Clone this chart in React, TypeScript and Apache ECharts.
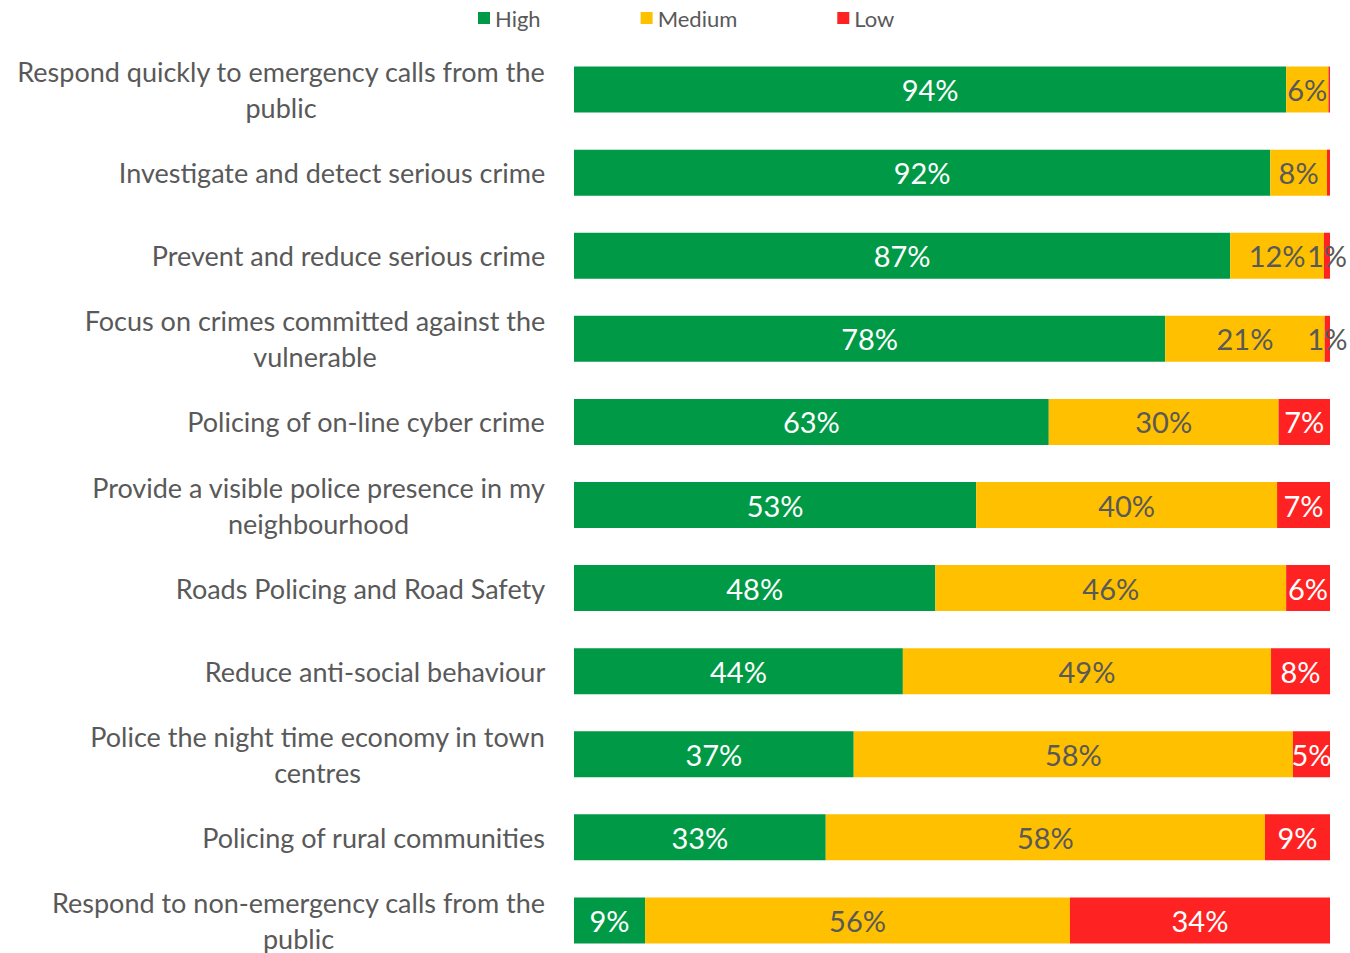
import React, { useEffect, useRef } from "react";
import * as echarts from "echarts";

const categories = [
  "Respond quickly to emergency calls from the\npublic",
  "Investigate and detect serious crime",
  "Prevent and reduce serious crime",
  "Focus on crimes committed against the\nvulnerable",
  "Policing of on-line cyber crime",
  "Provide a visible police presence in my\nneighbourhood",
  "Roads Policing and Road Safety",
  "Reduce anti-social behaviour",
  "Police the night time economy in town\ncentres",
  "Policing of rural communities",
  "Respond to non-emergency calls from the\npublic",
];
const high = [94.2, 92.1, 86.8, 78.2, 62.8, 53.2, 47.8, 43.5, 37.0, 33.3, 9.4];
const medium = [5.6, 7.5, 12.4, 21.1, 30.4, 39.8, 46.4, 48.7, 58.1, 58.1, 56.2];
const low = [0.2, 0.4, 0.8, 0.7, 6.8, 7.0, 5.8, 7.8, 4.9, 8.6, 34.4];

const FONT = "Lato, 'Noto Sans', sans-serif";
const CAT_SIZE = 27;
const GRAY = "#595959";

export default function App() {
  const ref = useRef<HTMLDivElement>(null);
  useEffect(() => {
    if (!ref.current) return;
    const chart = echarts.init(ref.current, null, { renderer: "svg" });
    const canvas = document.createElement("canvas");
    const ctx = canvas.getContext("2d")!;
    ctx.font = `${CAT_SIZE}px ${FONT}`;
    const rich: Record<string, any> = {};
    categories.forEach((c, i) => {
      const lines = c.split("\n");
      const w = Math.max(...lines.map((l) => ctx.measureText(l).width));
      rich["r" + i] = {
        width: Math.ceil(w) + 1,
        align: "center",
        fontSize: CAT_SIZE,
        fontFamily: FONT,
        color: GRAY,
        lineHeight: 36,
      };
    });
    const fmt = (p: any) => {
      const r = Math.round(p.value);
      return r === 0 ? "" : r + "%";
    };
    // thin segments: label overflows onto white page, so it is drawn gray
    const toItems = (data: number[], textColor: string) =>
      data.map((v) => ({ value: v, label: { color: v < 2 ? GRAY : textColor } }));
    const mk = (name: string, data: number[], color: string, textColor: string) => ({
      name,
      type: "bar",
      stack: "total",
      data: toItems(data, textColor),
      barWidth: 46,
      clip: false,
      itemStyle: { color },
      label: {
        show: true,
        position: "inside",
        formatter: fmt,
        color: textColor,
        fontSize: 29,
        fontFamily: FONT,
        overflow: "none",
      },
    });
    chart.setOption({
      animation: false,
      legend: {
        top: 2,
        left: 473,
        itemWidth: 12,
        itemHeight: 12,
        itemGap: 100,
        icon: "rect",
        textStyle: { color: GRAY, fontSize: 22, fontFamily: FONT },
        data: ["High", "Medium", "Low"],
      },
      grid: { left: 574, right: 20, top: 48, height: 914, containLabel: false },
      xAxis: { type: "value", min: 0, max: 100, show: false },
      yAxis: {
        type: "category",
        inverse: true,
        data: categories,
        axisLine: { show: false },
        axisTick: { show: false },
        axisLabel: {
          margin: 28,
          fontSize: CAT_SIZE,
          fontFamily: FONT,
          color: GRAY,
          lineHeight: 36,
          formatter: (v: string, i: number) => `{r${i}|${v}}`,
          rich,
        },
      },
      series: [
        mk("High", high, "#009A46", "#ffffff"),
        mk("Medium", medium, "#FFC000", GRAY),
        mk("Low", low, "#FF2222", "#ffffff"),
      ],
    });
    return () => chart.dispose();
  }, []);
  return (
    <div
      ref={ref}
      style={{ position: "fixed", left: 0, top: 0, width: 1350, height: 963, background: "#fff" }}
    />
  );
}
